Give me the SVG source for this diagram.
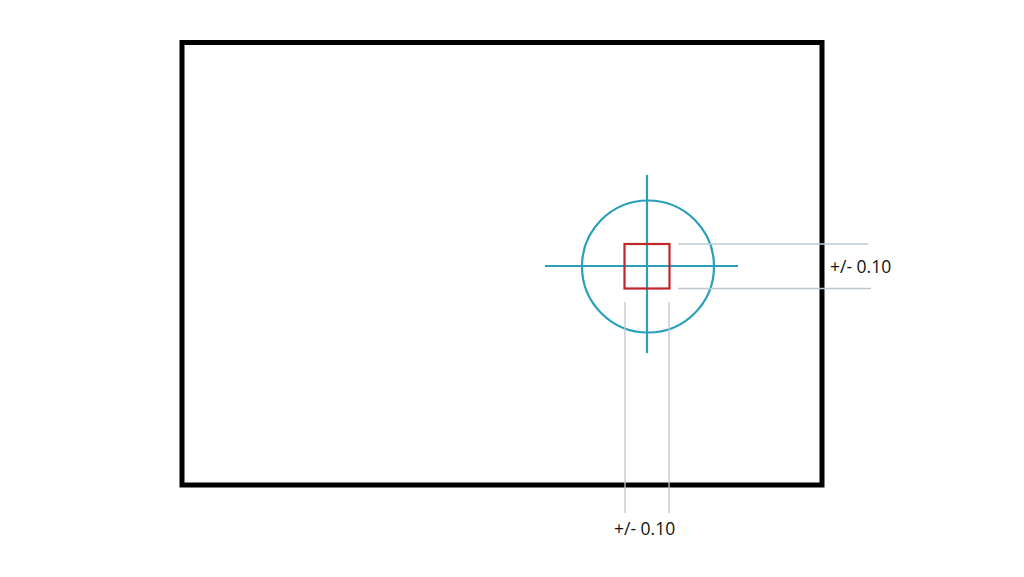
<svg xmlns="http://www.w3.org/2000/svg" width="1024" height="577" viewBox="0 0 1024 577">
<style>
.frame{fill:none;stroke:#000;stroke-width:5}
.teal{fill:none;stroke:#2a9fbc;stroke-width:2.2}
.red{fill:none;stroke:#c0262c;stroke-width:2.2}
.dim{fill:none;stroke:#bcc7d2;stroke-width:1.3}
.lbl{font-family:"Open Sans","Liberation Sans",sans-serif;font-size:17.5px;fill:#111}
</style>
<rect width="1024" height="577" fill="#fff"/>
<g id="frame"><rect class="frame" x="182" y="42.5" width="640" height="442.5"/></g>
<g id="target">
<circle class="teal" cx="648" cy="266.5" r="66"/>
<line class="teal" x1="647" y1="175" x2="647" y2="353"/>
<line class="teal" x1="545" y1="266" x2="738" y2="266"/>
</g>
<g id="tolerance-box"><rect class="red" x="624.5" y="244" width="45" height="44.5"/></g>
<g id="connectors">
<line class="dim" x1="678" y1="244" x2="868" y2="244"/>
<line class="dim" x1="678" y1="288.5" x2="871" y2="288.5"/>
<line class="dim" x1="625" y1="302" x2="625" y2="513"/>
<line class="dim" x1="669" y1="302" x2="669" y2="513"/>
</g>
<g id="label-y"><text class="lbl" x="830" y="272.5">+/- 0.10</text></g>
<g id="label-x"><text class="lbl" x="614" y="534.5">+/- 0.10</text></g>
</svg>
